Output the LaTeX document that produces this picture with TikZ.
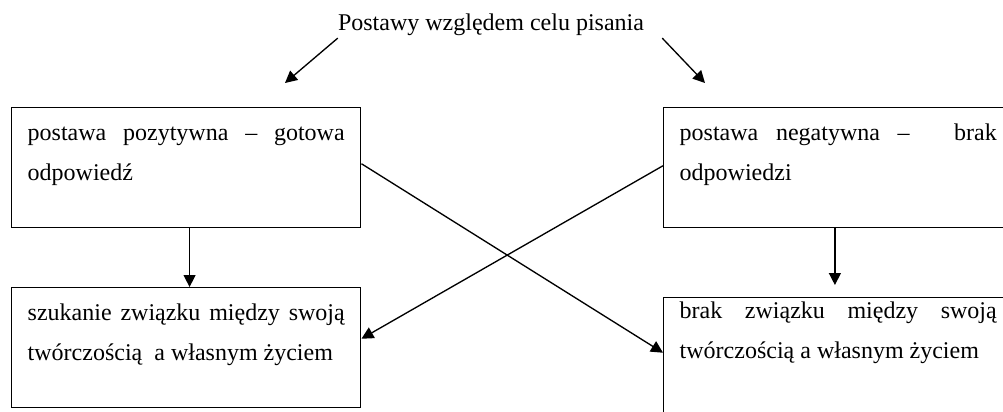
\documentclass[tikz,border=0pt]{standalone}
\usepackage{fontspec}
\setmainfont{Liberation Serif}
\usetikzlibrary{arrows.meta}

\begin{document}
\begin{tikzpicture}[x=0.75pt,y=-0.75pt,
    box/.style={draw,line width=1.1pt,anchor=north west,inner xsep=12pt,inner ysep=0pt,
      text width=237.75pt,align=justify,text height=24.75pt,text depth=65.25pt,
      font=\fontsize{18}{30}\selectfont},
    arr/.style={line width=1pt,-{Triangle[length=9pt,width=9pt]}}]
  \useasboundingbox (0,0) rectangle (1003,411);
  \clip (0,0) rectangle (1003,411);
  \draw
    (491,30) node[anchor=base,inner sep=0pt,font=\fontsize{18}{30}\selectfont] (title){Postawy względem celu pisania}
    (11,107) node[box] (pos){postawa pozytywna – gotowa\linebreak odpowiedź}
    (663,107) node[box] (neg){postawa negatywna –\hspace{20pt} brak\linebreak odpowiedzi}
    (11,287) node[box] (szuk){szukanie związku między swoją\linebreak twórczością~ a własnym życiem}
    (663,297) node[box,text height=15.75pt,text depth=74.25pt] (brak){brak związku między swoją\linebreak twórczością a własnym życiem};
  \coordinate (ltip) at (285,83);
  \coordinate (rtip) at (705,83);
  \begin{scope}[arr]
    \draw ([yshift=-2pt]title.south west) -- (ltip);
    \draw ([xshift=13.5pt,yshift=-2pt]title.south east) -- (rtip);
    \draw ([xshift=2.5pt]pos.south) -- ([xshift=2.5pt]szuk.north);
    \draw[shorten >=9pt] ([xshift=-2.5pt]neg.south) -- ([xshift=-2.5pt]brak.north);
    \draw ([yshift=3pt]pos.east) -- ([yshift=3.75pt]brak.west);
    \draw ([yshift=1.5pt]neg.west) -- ([yshift=6.75pt]szuk.east);
  \end{scope}
\end{tikzpicture}
\end{document}
